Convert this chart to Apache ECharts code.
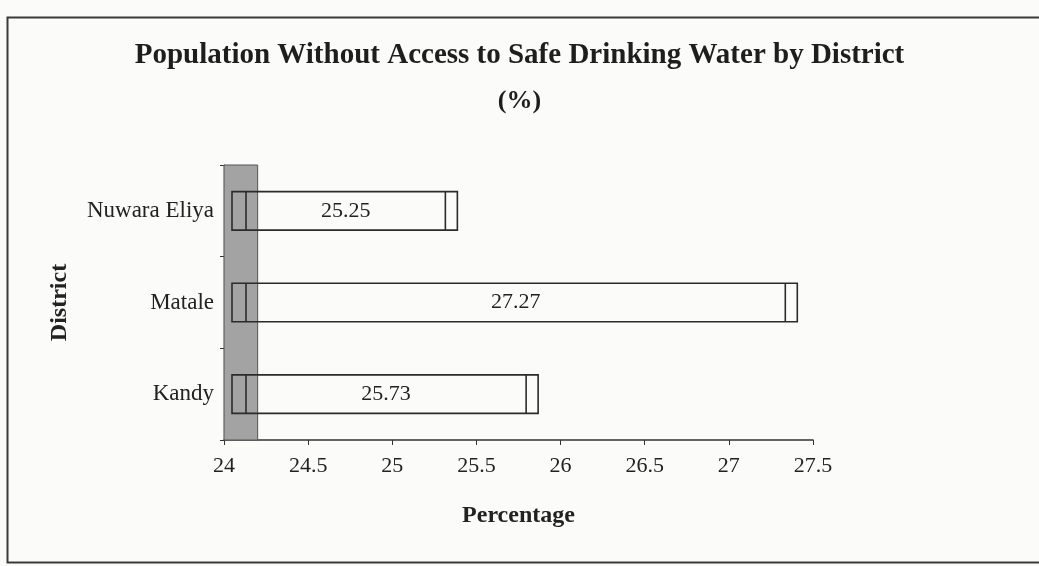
<!DOCTYPE html>
<html>
<head>
<meta charset="utf-8">
<script src="https://cdn.jsdelivr.net/npm/echarts@6/dist/echarts.min.js"></script>
<style>
  html, body { margin: 0; padding: 0; background: #fbfbfa; }
  #container { width: 1039px; height: 566px; }
</style>
</head>
<body>
<div id="container"></div>
<script>
var districts = ['Kandy', 'Matale', 'Nuwara Eliya'];
var percentages = [25.73, 27.27, 25.25];
var axisMin = 24, axisMax = 27.5, axisStep = 0.5;
var wallEnd = 24.2;

var dom = document.getElementById('container');
var myChart = echarts.init(dom, null, { renderer: 'canvas' });
var serif = '"Liberation Serif", "Times New Roman", serif';

// bar drawn as an outline with a small 3D depth, like the old Excel chart
function renderBar(params, api) {
    var idx = api.value(0);
    var val = api.value(1);
    var base = api.coord([axisMin, idx]);
    var end = api.coord([val, idx]);
    var h = api.size([0, 1])[1] * 0.42;
    var top = base[1] - h / 2;
    var x0 = base[0] + 8, x1 = base[0] + 22;
    var xf = end[0] + 11, xb = end[0] + 23;
    var ln = { stroke: '#2b2b2b', lineWidth: 1.6 };
    return {
        type: 'group',
        children: [
            { type: 'rect', shape: { x: x0, y: top, width: xb - x0, height: h },
              style: { fill: 'none', stroke: '#2b2b2b', lineWidth: 1.6 } },
            { type: 'line', shape: { x1: x1, y1: top, x2: x1, y2: top + h }, style: ln },
            { type: 'line', shape: { x1: xf, y1: top, x2: xf, y2: top + h }, style: ln },
            { type: 'text', style: { text: val.toFixed(2), x: (x1 + xf) / 2, y: base[1],
              align: 'center', verticalAlign: 'middle', fill: '#222',
              font: '22px ' + serif } }
        ]
    };
}

var option = {
    backgroundColor: '#fbfbfa',
    textStyle: { fontFamily: serif },
    title: {
        text: 'Population Without Access to Safe Drinking Water by District',
        subtext: '(%)',
        left: 'center',
        top: 36,
        itemGap: 18,
        textStyle: { fontFamily: serif, fontSize: 29, fontWeight: 'bold', color: '#1e1e1e' },
        subtextStyle: { fontFamily: serif, fontSize: 26, fontWeight: 'bold', color: '#1e1e1e' }
    },
    grid: { left: 224, right: 226, top: 165, bottom: 126 },
    xAxis: {
        type: 'value',
        min: axisMin,
        max: axisMax,
        interval: axisStep,
        name: 'Percentage',
        nameLocation: 'middle',
        nameGap: 64,
        nameTextStyle: { fontFamily: serif, fontSize: 24, fontWeight: 'bold', color: '#222' },
        axisLine: { show: true, lineStyle: { color: '#333', width: 1.5 } },
        axisTick: { show: true, length: 5, lineStyle: { color: '#333' } },
        axisLabel: { fontFamily: serif, fontSize: 22, color: '#222', margin: 15 },
        splitLine: { show: false }
    },
    yAxis: {
        type: 'category',
        data: districts,
        name: 'District',
        nameLocation: 'middle',
        nameGap: 152,
        nameTextStyle: { fontFamily: serif, fontSize: 24, fontWeight: 'bold', color: '#222' },
        axisLine: { show: true, lineStyle: { color: '#333', width: 1.2 } },
        axisTick: { show: true, length: 4, lineStyle: { color: '#333' } },
        axisLabel: { fontFamily: serif, fontSize: 23, color: '#222', margin: 10 }
    },
    series: [
        {
            type: 'custom',
            renderItem: renderBar,
            encode: { x: 1, y: 0 },
            data: percentages.map(function (v, i) { return [i, v]; }),
            z: 5,
            markArea: {
                silent: true,
                itemStyle: { color: '#a3a3a3', borderColor: '#555', borderWidth: 1 },
                data: [[{ xAxis: axisMin }, { xAxis: wallEnd }]]
            }
        }
    ],
    graphic: [
        { type: 'rect', left: 5, top: 15, shape: { width: 1060, height: 545 },
          style: { fill: 'none', stroke: '#3a3a3a', lineWidth: 2 }, z: -1 }
    ]
};

myChart.setOption(option);
</script>
</body>
</html>
